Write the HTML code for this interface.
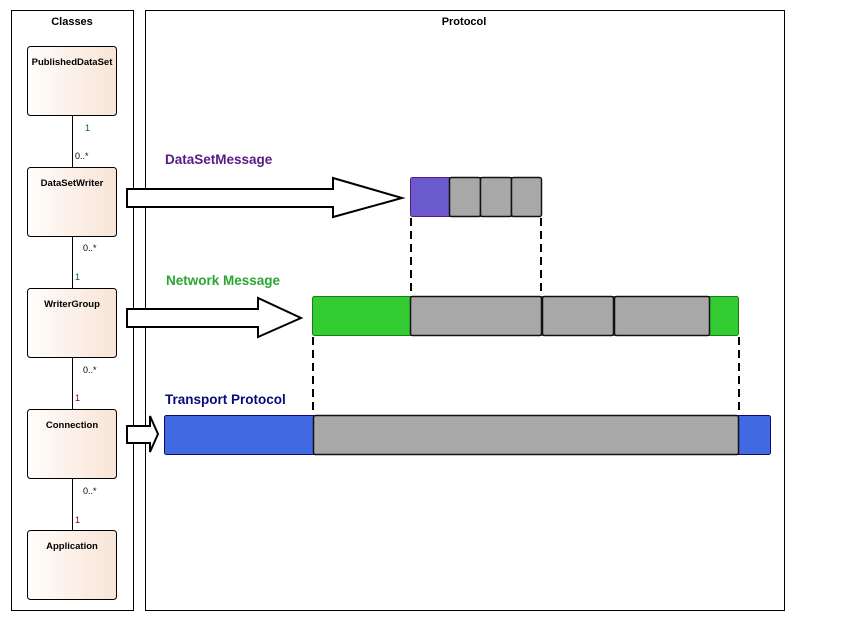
<!DOCTYPE html>
<html><head><meta charset="utf-8"><style>
html,body{margin:0;padding:0;background:#fff;width:851px;height:621px;overflow:hidden}
text{font-family:"Liberation Sans",Arial,sans-serif}
</style></head><body>
<svg width="851" height="621" viewBox="0 0 851 621" xmlns="http://www.w3.org/2000/svg">
<defs>
<linearGradient id="cg" x1="0" x2="1" y1="0" y2="0">
<stop offset="0" stop-color="#fffdfb"/><stop offset="1" stop-color="#f8e4d6"/>
</linearGradient>
</defs>
<rect x="11.5" y="10.5" width="122" height="600" fill="#fff" stroke="#000"/>
<text x="72" y="25" font-size="11" font-weight="bold" text-anchor="middle">Classes</text>
<rect x="145.5" y="10.5" width="639" height="600" fill="#fff" stroke="#000"/>
<text x="464" y="25" font-size="11" font-weight="bold" text-anchor="middle">Protocol</text>

<g stroke="#000" stroke-width="1">
<line x1="72.5" y1="115" x2="72.5" y2="167"/>
<line x1="72.5" y1="236" x2="72.5" y2="288"/>
<line x1="72.5" y1="357" x2="72.5" y2="409"/>
<line x1="72.5" y1="478" x2="72.5" y2="530"/>
</g>
<g font-size="9">
<text x="85" y="131" fill="#006030">1</text><text x="75" y="159">0..*</text>
<text x="83" y="251">0..*</text><text x="75" y="280" fill="#006030">1</text>
<text x="83" y="373">0..*</text><text x="75" y="401" fill="#700030">1</text>
<text x="83" y="494">0..*</text><text x="75" y="523" fill="#700030">1</text>
</g>

<g>
<rect x="27.5" y="46.5" width="89" height="69" rx="3" fill="url(#cg)" stroke="#000"/>
<text x="72" y="65" font-size="9.5" font-weight="bold" text-anchor="middle">PublishedDataSet</text></g>
<g>
<rect x="27.5" y="167.5" width="89" height="69" rx="3" fill="url(#cg)" stroke="#000"/>
<text x="72" y="186" font-size="9.5" font-weight="bold" text-anchor="middle">DataSetWriter</text></g>
<g>
<rect x="27.5" y="288.5" width="89" height="69" rx="3" fill="url(#cg)" stroke="#000"/>
<text x="72" y="307" font-size="9.5" font-weight="bold" text-anchor="middle">WriterGroup</text></g>
<g>
<rect x="27.5" y="409.5" width="89" height="69" rx="3" fill="url(#cg)" stroke="#000"/>
<text x="72" y="428" font-size="9.5" font-weight="bold" text-anchor="middle">Connection</text></g>
<g>
<rect x="27.5" y="530.5" width="89" height="69" rx="3" fill="url(#cg)" stroke="#000"/>
<text x="72" y="549" font-size="9.5" font-weight="bold" text-anchor="middle">Application</text></g>

<g fill="#fff" stroke="#000" stroke-width="2">
<polygon points="127,189 333,189 333,178 402,198 333,217 333,207 127,207"/>
<polygon points="127,309 258,309 258,298 301,318 258,337 258,327 127,327"/>
<polygon points="127,426 150,426 150,416 158,434 150,452 150,443 127,443"/>
</g>

<text x="165" y="164" font-size="13.5" font-weight="bold" fill="#5a1a85">DataSetMessage</text>
<text x="166" y="285" font-size="13.5" font-weight="bold" fill="#2aa630">Network Message</text>
<text x="165" y="404" font-size="13.5" font-weight="bold" fill="#0a0a78">Transport Protocol</text>

<g>
<rect x="410.5" y="177.5" width="131" height="39" rx="2" fill="#6a5acd" stroke="#5a1a85"/>
<rect x="449.5" y="177.5" width="31" height="39" rx="2" fill="#a8a8a8" stroke="#111" stroke-width="1.5"/>
<rect x="480.5" y="177.5" width="31" height="39" rx="2" fill="#a8a8a8" stroke="#111" stroke-width="1.5"/>
<rect x="511.5" y="177.5" width="30" height="39" rx="2" fill="#a8a8a8" stroke="#111" stroke-width="1.5"/>
</g>
<g>
<rect x="312.5" y="296.5" width="426" height="39" rx="2" fill="#33cc33" stroke="#1a7a1a"/>
<rect x="410.5" y="296.5" width="131" height="39" rx="2" fill="#a8a8a8" stroke="#111" stroke-width="1.5"/>
<rect x="542.5" y="296.5" width="71" height="39" rx="2" fill="#a8a8a8" stroke="#111" stroke-width="1.5"/>
<rect x="614.5" y="296.5" width="95" height="39" rx="2" fill="#a8a8a8" stroke="#111" stroke-width="1.5"/>
</g>
<g>
<rect x="164.5" y="415.5" width="606" height="39" rx="2" fill="#4169e1" stroke="#0a0a78"/>
<rect x="313.5" y="415.5" width="425" height="39" rx="2" fill="#a8a8a8" stroke="#111" stroke-width="1.5"/>
</g>

<g stroke="#000" stroke-width="2" stroke-dasharray="8,5">
<line x1="411" y1="218" x2="411" y2="296"/>
<line x1="541" y1="218" x2="541" y2="296"/>
<line x1="313" y1="337" x2="313" y2="415"/>
<line x1="739" y1="337" x2="739" y2="415"/>
</g>
</svg>
</body></html>
